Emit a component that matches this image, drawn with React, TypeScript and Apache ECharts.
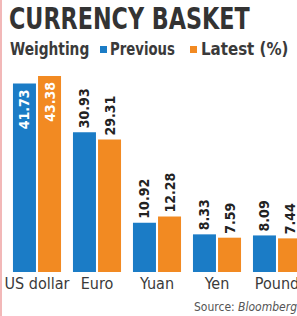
import React, { useEffect, useRef } from "react";
import * as echarts from "echarts";

const categories = ["US dollar", "Euro", "Yuan", "Yen", "Pound"];
const previous = [41.73, 30.93, 10.92, 8.33, 8.09];
const latest = [43.38, 29.31, 12.28, 7.59, 7.44];
const seriesNames = ["Previous", "Latest (%)"];

const FONT = "'DejaVu Sans Condensed', 'DejaVu Sans', sans-serif";
const BLUE = "#1b7cc6";
const ORANGE = "#f28a22";
const TEXT = "#3a3a3a";

export default function App() {
  const ref = useRef<HTMLDivElement>(null);
  useEffect(() => {
    document.body.style.margin = "0";
    const chart = echarts.init(ref.current!, null, { renderer: "svg" });
    const mkData = (vals: number[]) =>
      vals.map((v, i) =>
        i === 0
          ? { value: v, label: { position: "insideTop", align: "right", color: "#ffffff", distance: 6 } }
          : { value: v }
      );
    const labelCfg = {
      show: true,
      position: "top",
      rotate: 90,
      align: "left",
      verticalAlign: "middle",
      distance: 4,
      fontFamily: FONT,
      fontSize: 14,
      fontWeight: "bold",
      color: "#222",
      formatter: (p: any) => p.value.toFixed(2),
    };
    const legendText = (text: string, x: number, sx: number) => ({
      type: "text",
      x,
      y: 40,
      scaleX: sx,
      style: { text, fontFamily: FONT, fontSize: 18, fontWeight: "bold", fill: TEXT, verticalAlign: "top" },
    });
    chart.setOption({
      animation: false,
      backgroundColor: "#ffffff",
      grid: { left: 7, width: 300, top: 46, height: 226, containLabel: false },
      xAxis: {
        type: "category",
        data: categories,
        axisLine: { show: false },
        axisTick: { show: false },
        axisLabel: { fontFamily: FONT, fontSize: 16, color: TEXT, margin: 3, interval: 0 },
      },
      yAxis: { type: "value", min: 0, max: 50, show: false, splitLine: { show: false } },
      series: [
        {
          name: seriesNames[0],
          type: "bar",
          barWidth: 23,
          barGap: "9%",
          itemStyle: { color: BLUE },
          label: labelCfg,
          data: mkData(previous),
        },
        {
          name: seriesNames[1],
          type: "bar",
          barWidth: 23,
          itemStyle: { color: ORANGE },
          label: labelCfg,
          data: mkData(latest),
        },
      ],
      graphic: [
        { type: "rect", shape: { x: 0, y: 0, width: 2, height: 316 }, style: { fill: "#f2b8b8" } },
        {
          type: "text",
          x: 9,
          y: 3,
          scaleX: 0.825,
          style: { text: "CURRENCY BASKET", fontFamily: FONT, fontSize: 30, fontWeight: "bold", fill: "#333333", verticalAlign: "top" },
        },
        legendText("Weighting", 10, 0.85),
        { type: "rect", shape: { x: 100, y: 46, width: 7, height: 7 }, style: { fill: BLUE } },
        legendText(seriesNames[0], 110, 0.82),
        { type: "rect", shape: { x: 190, y: 46, width: 7, height: 7 }, style: { fill: ORANGE } },
        legendText(seriesNames[1], 201, 0.93),
        {
          type: "text",
          x: 194,
          y: 301,
          style: {
            text: "{a|Source: }{b|Bloomberg}",
            verticalAlign: "top",
            rich: {
              a: { fontFamily: FONT, fontSize: 12, fill: "#555" },
              b: { fontFamily: FONT, fontSize: 12, fontStyle: "italic", fill: "#555" },
            },
          },
        },
      ],
    });
    return () => chart.dispose();
  }, []);
  return (
    <div style={{ position: "fixed", left: 0, top: 0, width: 297, height: 316, overflow: "hidden", background: "#fff" }}>
      <div ref={ref} style={{ width: 330, height: 316 }} />
    </div>
  );
}
